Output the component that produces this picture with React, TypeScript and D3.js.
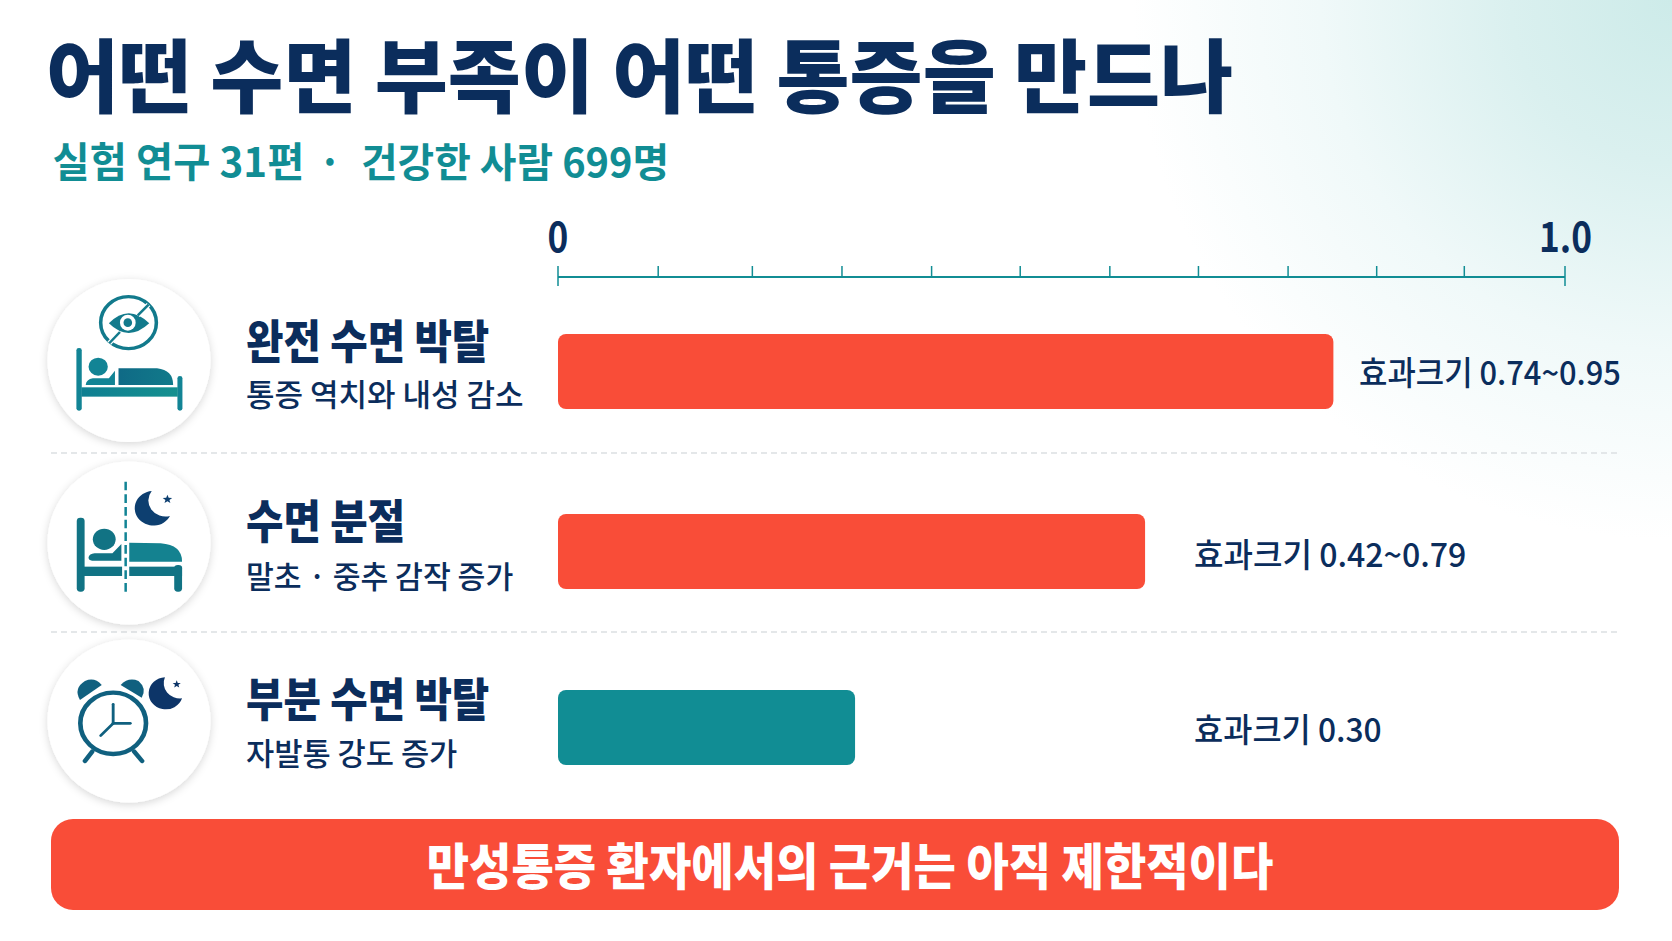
import React from "react";
import * as d3 from "d3";

const categories = ["완전 수면 박탈", "수면 분절", "부분 수면 박탈"];
const descriptions = ["통증 역치와 내성 감소", "말초 · 중추 감작 증가", "자발통 강도 증가"];
const barValues = [0.77, 0.583, 0.295];
const valueLabels = ["효과크기 0.74~0.95", "효과크기 0.42~0.79", "효과크기 0.30"];
const barKinds = ["high", "high", "low"];
const tickValues = [0, 0.0995, 0.193, 0.282, 0.371, 0.459, 0.548, 0.636, 0.725, 0.813, 0.9, 1];
const axisLabels = [{ v: 0, t: "0" }, { v: 1, t: "1.0" }];

const NAVY = "#0b2d5c";
const TEAL = "#118d94";
const RED = "#f94d38";
const FONT = "'Noto Sans CJK KR', sans-serif";
const W = 1672, H = 941;

const x = d3.scaleLinear().domain([0, 1]).range([558, 1565]);
const rowY = d3.scaleOrdinal<string, number>().domain(categories).range([334, 514, 690]);
const BAR_H = 75;
const rowCircle = [360.5, 543, 721];
const labelY = [358, 538, 716];
const subY = [406, 588, 765];
const subScale = [1, 0.976, 0.99];
const valueX = [1359, 1194, 1194];
const valueY = [385, 567, 742];
const valueScale = [0.935, 0.972, 0.962];
const dividers = [453, 632];

const Star = ({ cx, cy, r, fill }: any) => {
  const pts = d3.range(10).map((i) => {
    const a = -Math.PI / 2 + (i * Math.PI) / 5;
    const rr = i % 2 ? r * 0.42 : r;
    return `${cx + rr * Math.cos(a)},${cy + rr * Math.sin(a)}`;
  });
  return <polygon points={pts.join(" ")} fill={fill} />;
};

const Icon1 = () => (
  <g transform="translate(0,260) scale(0.357,0.3333)">
    <circle cx={360} cy={188} r={78} fill="none" stroke="#127a8c" strokeWidth={10} />
    <path d="M305 190Q360 130 418 190Q360 248 305 190Z" fill="#127a8c" />
    <ellipse cx={358} cy={188} rx={22} ry={24} fill="#fff" />
    <ellipse cx={358} cy={188} rx={12} ry={13} fill="#127a8c" />
    <line x1={306} y1={250} x2={336} y2={216} stroke="#fff" strokeWidth={14} />
    <line x1={386} y1={166} x2={416} y2={134} stroke="#fff" strokeWidth={14} />
    <line x1={306} y1={250} x2={336} y2={216} stroke="#127a8c" strokeWidth={7} />
    <line x1={386} y1={166} x2={416} y2={134} stroke="#127a8c" strokeWidth={7} />
    <rect x={214} y={264} width={15} height={188} rx={7} fill="#128495" />
    <rect x={497} y={348} width={14} height={104} rx={7} fill="#128495" />
    <rect x={228} y={382} width={270} height={28} fill="url(#bedG)" />
    <path d="M332 325L440 325Q485 330 485 375L332 375Z" fill="url(#bodyG)" />
    <path d="M240 375Q242 358 260 355L305 355L322 332L322 375Z" fill="#128495" />
    <circle cx={275} cy={320} r={27} fill="#128495" />
  </g>
);

const Icon2 = () => (
  <g transform="translate(0,450) scale(0.357,0.3333)">
    <line x1={352} y1={95} x2={352} y2={425} stroke="#128495" strokeWidth={7} strokeDasharray="26 12" />
    <path d="M425 123A52 52 0 1 0 476 198A48 48 0 0 1 425 123Z" fill="#0d3f70" />
    <Star cx={469} cy={148} r={14} fill="#0d3f70" />
    <rect x={215} y={203} width={22} height={222} rx={10} fill="#117384" />
    <rect x={488} y={345} width={22} height={80} rx={10} fill="#117384" />
    <rect x={230} y={350} width={112} height={28} fill="#117384" />
    <rect x={362} y={350} width={148} height={28} fill="#117384" />
    <path d="M362 278L450 280Q510 285 510 335L362 335Z" fill="#148290" />
    <path d="M248 322Q250 312 265 310L315 310L340 282L340 332L258 332Q248 332 248 322Z" fill="#117384" />
    <circle cx={292} cy={268} r={32} fill="#117384" />
  </g>
);

const Icon3 = () => (
  <g transform="translate(0,625) scale(0.357,0.3333)">
    <circle cx={317} cy={295} r={92} fill="none" stroke="#10607f" strokeWidth={13} />
    <path d="M224 225Q205 190 238 168Q265 155 285 180Z" fill="#10607f" />
    <path d="M338 180Q360 155 388 168Q412 190 397 218Z" fill="#10607f" />
    <line x1={258} y1={380} x2={238} y2={408} stroke="#10607f" strokeWidth={13} strokeLinecap="round" />
    <line x1={376} y1={380} x2={398} y2={408} stroke="#10607f" strokeWidth={13} strokeLinecap="round" />
    <g stroke="#10607f" strokeWidth={8} strokeLinecap="round">
      <line x1={317} y1={238} x2={317} y2={295} />
      <line x1={317} y1={295} x2={365} y2={295} />
      <line x1={317} y1={295} x2={282} y2={332} />
    </g>
    <path d="M462 157A48 48 0 1 0 510 220A46 46 0 0 1 462 157Z" fill="#0d3568" />
    <Star cx={495} cy={178} r={12} fill="#0d3568" />
  </g>
);
const icons = [Icon1, Icon2, Icon3];

export default function App() {
  return (
    <svg
      width={W}
      height={H}
      viewBox={`0 0 ${W} ${H}`}
      style={{ position: "fixed", left: 0, top: 0, display: "block", fontFamily: FONT }}
    >
      <defs>
        <radialGradient id="bg" gradientUnits="userSpaceOnUse" cx={W} cy={0} r={540}>
          <stop offset="0" stopColor="#cdebe9" />
          <stop offset="0.3" stopColor="#daf0ef" />
          <stop offset="0.65" stopColor="#f0f9f9" />
          <stop offset="1" stopColor="#ffffff" />
        </radialGradient>
        <linearGradient id="bedG" x1="0" x2="1" y1="0" y2="0">
          <stop offset="0" stopColor="#0f7f92" />
          <stop offset="1" stopColor="#15908f" />
        </linearGradient>
        <linearGradient id="bodyG" x1="0" x2="1" y1="0" y2="0">
          <stop offset="0" stopColor="#0f6a86" />
          <stop offset="1" stopColor="#117a8a" />
        </linearGradient>
        <filter id="sh" x="-20%" y="-20%" width="140%" height="140%">
          <feDropShadow dx={0} dy={2} stdDeviation={4} floodColor="#000" floodOpacity={0.16} />
        </filter>
      </defs>
      <rect width={W} height={H} fill="#fff" />
      <rect width={W} height={H} fill="url(#bg)" />

      <text transform="translate(46,106) scale(0.993,1)" fontSize={80} fontWeight={900} fill={NAVY}>어떤 수면 부족이 어떤 통증을 만드나</text>
      <text x={52.5} y={177} fontSize={40.4} fontWeight={700} fill={TEAL}>실험 연구 31편</text>
      <text x={330} y={177} fontSize={40.4} fontWeight={700} fill={TEAL} textAnchor="middle">·</text>
      <text x={361} y={177} fontSize={39.8} fontWeight={700} fill={TEAL}>건강한 사람 699명</text>

      {/* axis */}
      <line x1={x(0)} x2={x(1)} y1={277} y2={277} stroke={TEAL} strokeWidth={2} />
      {tickValues.map((t, i) => (
        <line key={i} x1={x(t)} x2={x(t)} y1={266} y2={i === 0 || i === tickValues.length - 1 ? 286 : 277} stroke={TEAL} strokeWidth={1.5} />
      ))}
      {axisLabels.map((d) => (
        <text key={d.t} transform={`translate(${x(d.v) + (d.v === 0 ? 0 : 27)},252) scale(0.86,1)`} fontSize={41} fontWeight={700} fill={NAVY} textAnchor={d.v === 0 ? "middle" : "end"}>{d.t}</text>
      ))}

      {dividers.map((y) => (
        <line key={y} x1={51} x2={1621} y1={y} y2={y} stroke="#dcdfe2" strokeWidth={1.5} strokeDasharray="6 4" />
      ))}

      {categories.map((c, i) => {
        const Ic = icons[i];
        return (
          <g key={c}>
            <circle cx={129} cy={rowCircle[i]} r={81.5} fill="#fff" filter="url(#sh)" />
            <Ic />
            <text transform={`translate(246,${labelY[i]}) scale(0.885,1)`} fontSize={46} fontWeight={900} fill={NAVY}>{c}</text>
            <text transform={`translate(246,${subY[i]}) scale(${subScale[i]},1)`} fontSize={31} fontWeight={500} fill={NAVY}>{descriptions[i]}</text>
            <rect
              x={x(0)}
              y={rowY(c)}
              width={x(barValues[i]) - x(0)}
              height={BAR_H}
              rx={8}
              fill={barKinds[i] === "high" ? RED : TEAL}
            />
            <text transform={`translate(${valueX[i]},${valueY[i]}) scale(${valueScale[i]},1)`} fontSize={33} fontWeight={500} fill={NAVY}>{valueLabels[i]}</text>
          </g>
        );
      })}

      <rect x={51} y={819} width={1568} height={91} rx={22} fill={RED} />
      <text transform="translate(850,885) scale(0.93,1)" fontSize={49.5} fontWeight={900} fill="#fff" textAnchor="middle">만성통증 환자에서의 근거는 아직 제한적이다</text>
    </svg>
  );
}
